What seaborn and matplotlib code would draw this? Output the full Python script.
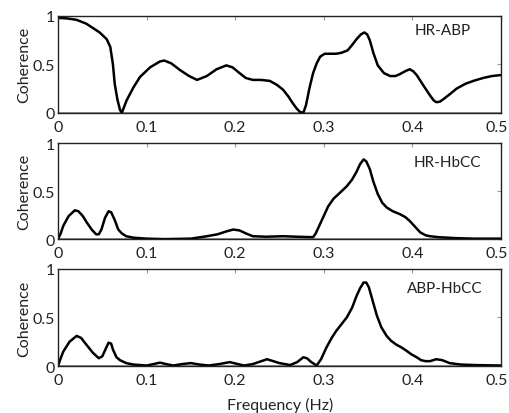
import numpy as np
import pandas as pd
import matplotlib
matplotlib.use("Agg")
import matplotlib.pyplot as plt
import matplotlib.transforms as mtransforms
import seaborn as sns

# HR-ABP
f_hr_abp = [0, 0.01, 0.021, 0.032, 0.047, 0.055, 0.059, 0.062, 0.064, 0.067, 0.07, 0.072, 0.0775, 0.085, 0.0925,
            0.104, 0.115, 0.12, 0.128, 0.138, 0.148, 0.157, 0.168, 0.179, 0.19, 0.197, 0.205, 0.212, 0.22, 0.229,
            0.239, 0.247, 0.254, 0.26, 0.265, 0.269, 0.273, 0.277, 0.280, 0.284, 0.288, 0.292, 0.296, 0.301, 0.307,
            0.314, 0.32, 0.327, 0.332, 0.337, 0.342, 0.346, 0.349, 0.352, 0.356, 0.361, 0.368, 0.375, 0.381, 0.386,
            0.392, 0.397, 0.401, 0.405, 0.412, 0.42, 0.424, 0.427, 0.431, 0.435, 0.442, 0.45, 0.46, 0.469, 0.48,
            0.49, 0.5]
c_hr_abp = [0.98, 0.975, 0.96, 0.92, 0.83, 0.76, 0.68, 0.5, 0.3, 0.14, 0.03, 0.0, 0.13, 0.26, 0.37,
            0.47, 0.53, 0.54, 0.51, 0.44, 0.38, 0.34, 0.38, 0.45, 0.49, 0.47, 0.41, 0.36, 0.34, 0.34,
            0.33, 0.29, 0.24, 0.17, 0.10, 0.05, 0.01, 0.0, 0.08, 0.26, 0.41, 0.51, 0.58, 0.61, 0.61,
            0.61, 0.62, 0.645, 0.7, 0.76, 0.81, 0.83, 0.81, 0.75, 0.62, 0.49, 0.41, 0.38, 0.38, 0.40,
            0.43, 0.45, 0.43, 0.39, 0.29, 0.18, 0.13, 0.11, 0.115, 0.14, 0.19, 0.25, 0.30, 0.33, 0.36,
            0.38, 0.39]

# HR-HbCC
f_hr_hbcc = [0, 0.003, 0.006, 0.012, 0.019, 0.023, 0.028, 0.032, 0.038, 0.043, 0.046, 0.049, 0.053, 0.057, 0.06,
             0.064, 0.068, 0.072, 0.077, 0.085, 0.1, 0.12, 0.15, 0.168, 0.18, 0.19, 0.198, 0.205, 0.212, 0.22,
             0.235, 0.254, 0.27, 0.288, 0.291, 0.295, 0.3, 0.305, 0.311, 0.318, 0.326, 0.332, 0.337, 0.341, 0.345,
             0.348, 0.352, 0.356, 0.361, 0.366, 0.371, 0.378, 0.386, 0.392, 0.397, 0.403, 0.409, 0.415, 0.42, 0.43,
             0.45, 0.47, 0.5]
c_hr_hbcc = [0.0, 0.06, 0.14, 0.24, 0.30, 0.29, 0.24, 0.18, 0.10, 0.05, 0.05, 0.10, 0.22, 0.29, 0.28,
             0.2, 0.10, 0.06, 0.03, 0.015, 0.005, 0.0, 0.005, 0.03, 0.05, 0.08, 0.10, 0.09, 0.06, 0.03,
             0.025, 0.03, 0.025, 0.02, 0.06, 0.14, 0.24, 0.34, 0.42, 0.48, 0.55, 0.62, 0.70, 0.78, 0.83,
             0.81, 0.73, 0.6, 0.47, 0.38, 0.33, 0.29, 0.26, 0.23, 0.19, 0.13, 0.07, 0.04, 0.03, 0.02,
             0.01, 0.005, 0.005]

# ABP-HbCC
f_abp_hbcc = [0, 0.003, 0.006, 0.013, 0.021, 0.026, 0.032, 0.039, 0.046, 0.05, 0.054, 0.057, 0.06, 0.062, 0.066,
              0.07, 0.077, 0.085, 0.1, 0.108, 0.115, 0.122, 0.13, 0.14, 0.15, 0.16, 0.17, 0.182, 0.194, 0.203,
              0.21, 0.22, 0.236, 0.25, 0.262, 0.27, 0.277, 0.281, 0.286, 0.292, 0.297, 0.303, 0.309, 0.314, 0.32,
              0.326, 0.332, 0.337, 0.341, 0.345, 0.348, 0.351, 0.355, 0.36, 0.365, 0.371, 0.376, 0.382, 0.388, 0.393,
              0.399, 0.405, 0.41, 0.415, 0.42, 0.427, 0.434, 0.442, 0.455, 0.47, 0.5]
c_abp_hbcc = [0.0, 0.08, 0.15, 0.25, 0.31, 0.29, 0.22, 0.14, 0.08, 0.1, 0.18, 0.24, 0.23, 0.17, 0.09,
              0.06, 0.03, 0.015, 0.005, 0.02, 0.035, 0.02, 0.005, 0.02, 0.03, 0.015, 0.005, 0.02, 0.04, 0.02,
              0.005, 0.02, 0.07, 0.03, 0.01, 0.04, 0.09, 0.08, 0.04, 0.005, 0.07, 0.19, 0.29, 0.36, 0.43,
              0.5, 0.6, 0.72, 0.8, 0.86, 0.86, 0.81, 0.68, 0.52, 0.4, 0.31, 0.26, 0.22, 0.19, 0.16,
              0.12, 0.09, 0.06, 0.05, 0.05, 0.07, 0.06, 0.03, 0.015, 0.01, 0.005]

labels = ["HR-ABP", "HR-HbCC", "ABP-HbCC"]
series = [(f_hr_abp, c_hr_abp), (f_hr_hbcc, c_hr_hbcc), (f_abp_hbcc, c_abp_hbcc)]
xticks = [0, 0.1, 0.2, 0.3, 0.4, 0.5]
xticklabels = ["0", "0.1", "0.2", "0.3", "0.4", "0.5"]
yticks = [0, 0.5, 1]
yticklabels = ["0", "0.5", "1"]

sns.set_style("white")
plt.rcParams['font.family'] = ['Lato', 'DejaVu Sans']

fig = plt.figure(figsize=(5.09, 4.14), dpi=100)
positions = [(0.114, 0.725, 0.870, 0.234),
             (0.114, 0.420, 0.870, 0.232),
             (0.114, 0.1135, 0.870, 0.2345)]
label_pos = [(0.403, 0.86), (0.401, 0.80), (0.394, 0.80)]

for pos, (fx, cy), lab, lp in zip(positions, series, labels, label_pos):
    ax = fig.add_axes(pos)
    df = pd.DataFrame({"Frequency": fx, "Coherence": cy})
    sns.lineplot(data=df, x="Frequency", y="Coherence", ax=ax, color="black", linewidth=1.8, sort=True)
    ax.axhline(0, color="#8a8a8a", linewidth=2.0, zorder=1)
    ax.set_xlim(0, 0.5)
    ax.set_ylim(0, 1)
    ax.set_xticks(xticks)
    ax.set_xticklabels(xticklabels)
    ax.set_yticks(yticks)
    ax.set_yticklabels(yticklabels)
    ax.tick_params(direction="in", length=3, color="#999999", top=True, right=True,
                   labelsize=11.5, labelcolor="#222222")
    ax.tick_params(axis="x", pad=5)
    ax.tick_params(axis="y", pad=2)
    last = ax.get_xticklabels()[-1]
    last.set_transform(last.get_transform() +
                       mtransforms.ScaledTranslation(-4 / 100, 0, fig.dpi_scale_trans))
    for s in ax.spines.values():
        s.set_color("#222222")
        s.set_linewidth(1.0)
    ax.set_xlabel("")
    ax.set_ylabel("Coherence", fontsize=11.5, color="#222222", labelpad=1)
    ax.text(lp[0], lp[1], lab, fontsize=11, color="#222222", ha="left", va="center")

fig.text(0.55, 0.02, "Frequency (Hz)", ha="center", va="center", fontsize=11.5, color="#222222")
fig.savefig("out.png", dpi=100)
